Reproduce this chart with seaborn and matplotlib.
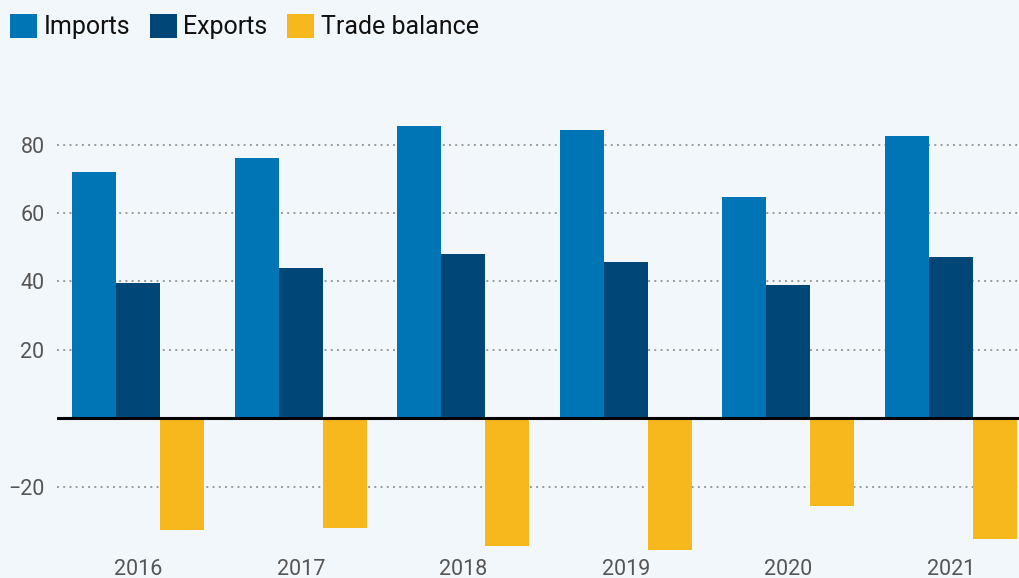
import matplotlib
matplotlib.use("Agg")
import matplotlib.pyplot as plt
import seaborn as sns
import pandas as pd
from matplotlib.patches import Patch

years = ["2016", "2017", "2018", "2019", "2020", "2021"]
imports = [72.0, 76.0, 85.3, 84.1, 64.6, 82.4]
exports = [39.5, 43.9, 48.0, 45.6, 38.9, 47.1]
trade_balance = [-32.5, -32.1, -37.3, -38.5, -25.7, -35.3]
series_names = ["Imports", "Exports", "Trade balance"]
colors = ["#0075B6", "#004676", "#F6B81C"]
yticks = [-20, 20, 40, 60, 80]

bg = "#F2F7FB"
sns.set_theme(style="white")
plt.rcParams["font.family"] = ["Roboto", "DejaVu Sans"]

rows = []
for name, vals in zip(series_names, [imports, exports, trade_balance]):
    for y, v in zip(years, vals):
        rows.append({"year": y, "series": name, "value": v})
df = pd.DataFrame(rows)

fig = plt.figure(figsize=(10.19, 5.78), dpi=100, facecolor=bg)
ax = fig.add_axes([57 / 1019, 25 / 578, 1 - 57 / 1019, (553 - 100) / 578])
ax.set_facecolor(bg)

sns.barplot(data=df, x="year", y="value", hue="series", hue_order=series_names,
            palette=colors, width=0.81, gap=0, saturation=1, linewidth=0,
            errorbar=None, ax=ax, zorder=3)

ax.set_xlim(-0.5, 5.42)
ax.set_ylim(-39.3, 93)
ax.set_yticks(yticks)
ax.set_yticklabels(["\u221220" if t < 0 else str(t) for t in yticks])
ax.grid(axis="y", color="#9a9a9a", linestyle=(0, (1, 2.2)), linewidth=1.4, zorder=0)
ax.grid(axis="x", visible=False)
ax.axhline(0, color="black", linewidth=2.2, zorder=4)
for s in ax.spines.values():
    s.set_visible(False)
ax.tick_params(axis="both", length=0, labelsize=15.5, labelcolor="#555555")
ax.tick_params(axis="y", pad=9)
ax.tick_params(axis="x", pad=4)
ax.set_xlabel("")
ax.set_ylabel("")
if ax.get_legend() is not None:
    ax.get_legend().remove()

handles = [Patch(facecolor=c, edgecolor="none") for c in colors]
fig.legend(handles, series_names, loc="upper left", bbox_to_anchor=(0.0, 0.993),
           ncol=3, frameon=False, fontsize=18, handlelength=1.08, handleheight=1.08,
           handletextpad=0.25, columnspacing=0.8, borderaxespad=0.1,
           borderpad=0.3, labelcolor="#111111")

fig.savefig("out.png", dpi=100, facecolor=bg)
